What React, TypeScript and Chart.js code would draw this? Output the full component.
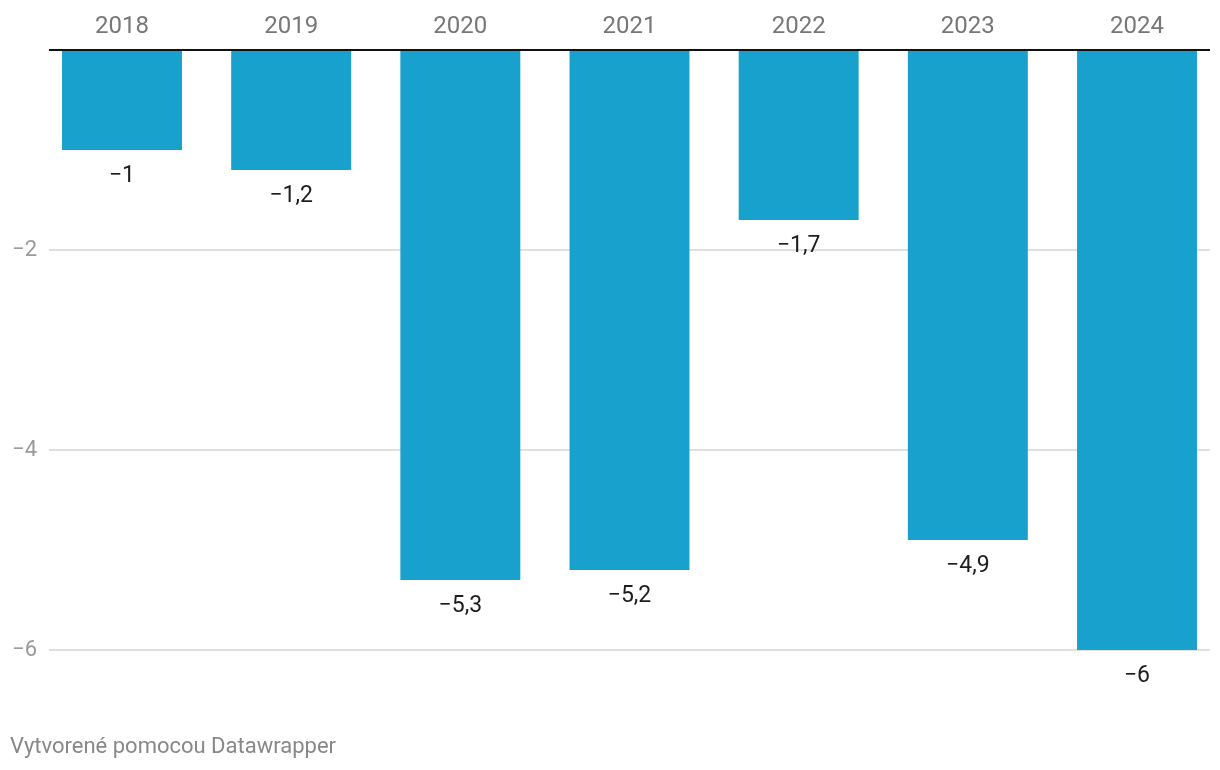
import React, { useEffect, useRef } from "react";
import { Chart, registerables } from "chart.js";

Chart.register(...registerables);

const years: string[] = ["2018", "2019", "2020", "2021", "2022", "2023", "2024"];
const values: number[] = [-1, -1.2, -5.3, -5.2, -1.7, -4.9, -6];
const yTicks: number[] = [0, -2, -4, -6];

const BAR_COLOR = "#19a1cd";
const FONT = "Roboto, 'Noto Sans', sans-serif";

const fmt = (v: number) => {
  const s = Math.abs(v).toString().replace(".", ",");
  return v < 0 ? "\u2212" + s : s;
};

const valueLabels = {
  id: "valueLabels",
  afterDatasetsDraw(chart: any) {
    const ctx = chart.ctx;
    const meta = chart.getDatasetMeta(0);
    ctx.save();
    const y0 = chart.scales.y.getPixelForValue(0);
    ctx.strokeStyle = "#111";
    ctx.lineWidth = 2;
    ctx.beginPath();
    ctx.moveTo(chart.chartArea.left, y0);
    ctx.lineTo(chart.chartArea.right, y0);
    ctx.stroke();
    ctx.fillStyle = "#1d1d1d";
    ctx.font = `23px ${FONT}`;
    ctx.textAlign = "center";
    ctx.textBaseline = "middle";
    meta.data.forEach((el: any, i: number) => {
      ctx.fillText(fmt(values[i]), el.x, el.y + 26);
    });
    ctx.restore();
  },
};

export default function App() {
  const ref = useRef<HTMLCanvasElement | null>(null);
  useEffect(() => {
    if (!ref.current) return;
    const chart = new Chart(ref.current, {
      type: "bar",
      data: {
        datasets: [
          {
            data: values.map((v, i) => ({ x: i, y: v })),
            backgroundColor: BAR_COLOR,
            borderWidth: 0,
            barPercentage: 0.709,
            categoryPercentage: 1,
          },
        ],
      },
      options: {
        animation: false,
        responsive: true,
        maintainAspectRatio: false,
        layout: { padding: { left: 0, right: 10, top: 0, bottom: 120 } },
        plugins: { legend: { display: false }, tooltip: { enabled: false } },
        scales: {
          x: {
            type: "linear",
            position: "top",
            offset: false,
            bounds: "data",
            min: -0.4315,
            max: 6.4315,
            grid: { display: false, offset: false },
            border: { display: false },
            afterBuildTicks: (scale: any) => {
              scale.ticks = years.map((_, i) => ({ value: i }));
            },
            afterFit: (scale: any) => {
              scale.height = 50;
            },
            ticks: {
              padding: 1,
              color: "#777",
              font: { family: FONT, size: 24 },
              callback: (v: any) => years[Number(v)] ?? "",
              maxRotation: 0,
              autoSkip: false,
            },
          },
          y: {
            min: -6,
            max: 0,
            afterBuildTicks: (scale: any) => {
              scale.ticks = yTicks.map((v) => ({ value: v }));
            },
            afterFit: (scale: any) => {
              scale.width = 49;
            },
            border: { display: false },
            grid: {
              drawTicks: false,
              color: (c: any) => (c.tick && c.tick.value === 0 ? "rgba(0,0,0,0)" : "#e0e0e0"),
              lineWidth: 2,
            },
            ticks: {
              padding: 12,
              color: "#9a9a9a",
              font: { family: FONT, size: 22 },
              callback: (v: any) => (Number(v) === 0 ? "" : fmt(Number(v))),
            },
          },
        },
      },
      plugins: [valueLabels],
    });
    return () => chart.destroy();
  }, []);

  return (
    <div style={{ position: "fixed", left: 0, top: 0, width: 1220, height: 770, background: "#fff" }}>
      <canvas ref={ref} />
      <div
        style={{
          position: "absolute",
          left: 10,
          top: 732,
          fontFamily: FONT,
          fontSize: 22,
          color: "#888",
          lineHeight: "28px",
          whiteSpace: "nowrap",
        }}
      >
        Vytvorené pomocou Datawrapper
      </div>
    </div>
  );
}
